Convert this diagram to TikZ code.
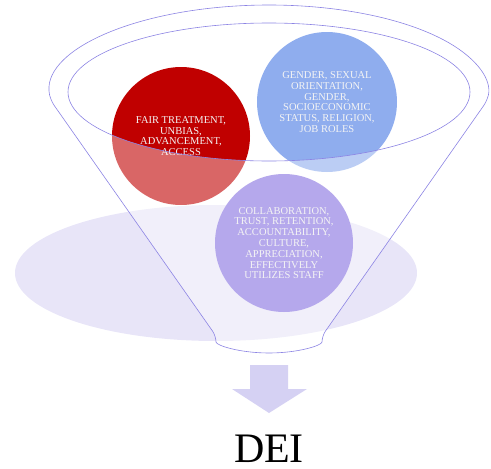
\documentclass[tikz,border=0pt]{standalone}
\usepackage{fontspec}
\setmainfont{Liberation Serif}
\usepackage{tikz}
\usetikzlibrary{positioning}

\definecolor{deired}{HTML}{C00000}
\definecolor{deiblue}{HTML}{8FADEE}
\definecolor{deipurple}{HTML}{B5A8EC}
\definecolor{deipale}{HTML}{E8E5F8}
\definecolor{deiline}{HTML}{8C84E4}
\definecolor{deiarrow}{HTML}{D5D1F3}
\definecolor{deitext}{HTML}{F4F4F4}

\tikzset{
  ball/.style={circle,inner sep=0pt,minimum size=138pt,align=center,
    text=deitext,font=\fontsize{10.5}{10.8}\selectfont},
  rim/.style={draw=deiline,line width=0.6pt}
}

\begin{document}
\begin{tikzpicture}[x=1pt,y=-1pt]
      \useasboundingbox (0,0) rectangle (491,469);

      \fill[deipale] (216,273) ellipse [x radius=201,y radius=68];

      \node[ball,fill=deired] (fair) at (181,136)
        {FAIR TREATMENT,\\UNBIAS,\\ADVANCEMENT,\\ACCESS};
      \node[ball,fill=deiblue,minimum size=140pt] (gender) at (327,102)
        {GENDER, SEXUAL\\ORIENTATION,\\GENDER,\\SOCIOECONOMIC\\STATUS, RELIGION,\\JOB ROLES};

      % funnel body over the back circles
      \fill[white,opacity=0.4,even odd rule,rounded corners=6pt]
        (269,93) ++(175:219 and 88) arc[start angle=175,end angle=365,x radius=219,y radius=88]
        -- (322,336) arc[start angle=0,end angle=180,x radius=53,y radius=17] -- cycle
        (269,92) ellipse [x radius=201,y radius=69];
      \draw[rim,rounded corners=6pt]
        (269,93) ++(175:219 and 88) arc[start angle=175,end angle=365,x radius=219,y radius=88]
        -- (322,336) arc[start angle=0,end angle=180,x radius=53,y radius=17] -- cycle;
      \draw[rim] (269,92) ellipse [x radius=201,y radius=69];

      \node[ball,fill=deipurple] (collab) at (284,243)
        {COLLABORATION,\\TRUST, RETENTION,\\ACCOUNTABILITY,\\CULTURE,\\APPRECIATION,\\EFFECTIVELY\\UTILIZES STAFF};

      \fill[deiarrow] (250,365) -- (288,365) -- (288,389) -- (307,389) -- (269,413)
        -- (232,389) -- (250,389) -- cycle;

      \node[font=\fontsize{42}{42}\selectfont,inner sep=0pt,anchor=base] (dei) at (269,462) {DEI};
    \end{tikzpicture}
\end{document}
